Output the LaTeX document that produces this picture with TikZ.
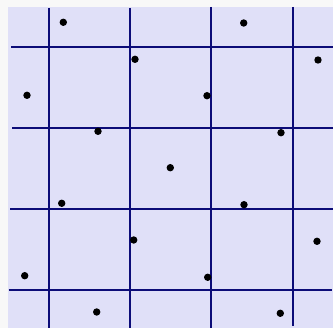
\documentclass[tikz,border=0pt]{standalone}
\definecolor{bgpage}{RGB}{248,248,248}
\definecolor{lav}{RGB}{224,224,248}
\definecolor{navyline}{RGB}{12,12,120}
\tikzset{
  dotnode/.style={circle,fill=black,inner sep=0pt,minimum size=7.4pt},
  gridline/.style={navyline,line width=2pt}
}
\begin{document}
\begin{tikzpicture}[x=1pt,y=-1pt]
\useasboundingbox (0,0) rectangle (333,328);
\fill[bgpage] (0,0) rectangle (333,328);
\fill[lav] (8,7.3) rectangle (333,328);
% vertical lines
\draw[gridline] (49,8) -- (49,328);
\draw[gridline] (129.8,8) -- (129.8,328);
\draw[gridline] (211.2,7) -- (211.2,328);
\draw[gridline] (293.2,7) -- (293.2,326.5);
% horizontal lines
\draw[gridline] (11,47) -- (333,47);
\draw[gridline] (12,127.8) -- (333,127.8);
\draw[gridline] (10,208.8) -- (333,208.8);
\draw[gridline] (8.5,290.2) -- (332,290.2);
% dots
\node[dotnode] (d1) at (63.3,22.3) {};
\node[dotnode] (d2) at (243.7,23) {};
\node[dotnode] (d3) at (135,59.3) {};
\node[dotnode] (d4) at (318,60) {};
\node[dotnode] (d5) at (27,95.3) {};
\node[dotnode] (d6) at (207,95.7) {};
\node[dotnode] (d7) at (98,131.3) {};
\node[dotnode] (d8) at (281,132.7) {};
\node[dotnode] (d9) at (170.3,167.7) {};
\node[dotnode] (d10) at (61.7,203.3) {};
\node[dotnode] (d11) at (244,204.7) {};
\node[dotnode] (d12) at (133.7,240) {};
\node[dotnode] (d13) at (317,241.3) {};
\node[dotnode] (d14) at (24.7,275.7) {};
\node[dotnode] (d15) at (207.7,277.3) {};
\node[dotnode] (d16) at (96.7,312) {};
\node[dotnode] (d17) at (280.3,313.3) {};
\end{tikzpicture}
\end{document}
